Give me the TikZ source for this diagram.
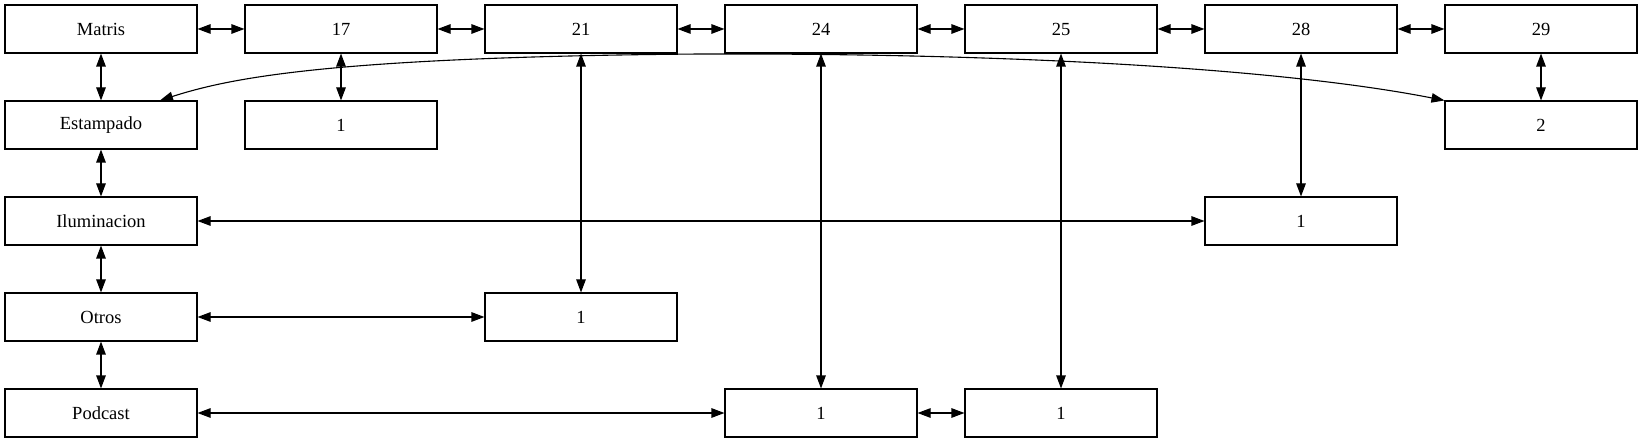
\documentclass[tikz,border=0pt]{standalone}
\usepackage{fontspec}
\setmainfont{Liberation Serif}
\usetikzlibrary{arrows.meta,calc}
\begin{document}
\begin{tikzpicture}[x=1pt,y=-1pt,
  box/.style={draw,line width=1.1pt,minimum width=192pt,minimum height=48pt,inner sep=0pt,font=\fontsize{18.5}{22}\selectfont},
  dbl/.style={line width=1.1pt,{Triangle[length=13pt,width=9.5pt]}-{Triangle[length=13pt,width=9.5pt]}}]
\useasboundingbox (0,0) rectangle (1643,443);
% row 0
\node[box] (matris) at (101,29) {Matris};
\node[box] (c17) at (341,29) {17};
\node[box] (c21) at (581,29) {21};
\node[box] (c24) at (821,29) {24};
\node[box] (c25) at (1061,29) {25};
\node[box] (c28) at (1301,29) {28};
\node[box] (c29) at (1541,29) {29};
% row 1
\node[box] (est) at (101,125) {Estampado};
\node[box] (a1) at (341,125) {1};
\node[box] (two) at (1541,125) {2};
% row 2
\node[box] (ilum) at (101,221) {Iluminacion};
\node[box] (b1) at (1301,221) {1};
% row 3
\node[box] (otros) at (101,317) {Otros};
\node[box] (d1) at (581,317) {1};
% row 4
\node[box] (pod) at (101,413) {Podcast};
\node[box] (e1) at (821,413) {1};
\node[box] (f1) at (1061,413) {1};
% top chain
\draw[dbl] (matris.east) -- (c17.west);
\draw[dbl] (c17.east) -- (c21.west);
\draw[dbl] (c21.east) -- (c24.west);
\draw[dbl] (c24.east) -- (c25.west);
\draw[dbl] (c25.east) -- (c28.west);
\draw[dbl] (c28.east) -- (c29.west);
% left chain
\draw[dbl] (matris.south) -- (est.north);
\draw[dbl] (est.south) -- (ilum.north);
\draw[dbl] (ilum.south) -- (otros.north);
\draw[dbl] (otros.south) -- (pod.north);
% verticals
\draw[dbl] (c17.south) -- (a1.north);
\draw[dbl] (c29.south) -- (two.north);
\draw[dbl] (c28.south) -- (b1.north);
\draw[dbl] (c21.south) -- (d1.north);
\draw[dbl] (c24.south) -- (e1.north);
\draw[dbl] (c25.south) -- (f1.north);
% horizontals
\draw[dbl] (ilum.east) -- (b1.west);
\draw[dbl] (otros.east) -- (d1.west);
\draw[dbl] (pod.east) -- (e1.west);
\draw[dbl] (e1.east) -- (f1.west);
% curve
\draw[dbl] ($(est.north)+(59,0)$) .. controls (230,78) and (330,57) .. (700,54)
  .. controls (1050,53) and (1300,72) .. (two.north west);
\end{tikzpicture}
\end{document}
